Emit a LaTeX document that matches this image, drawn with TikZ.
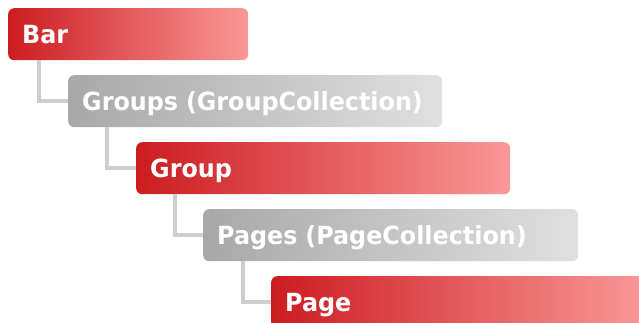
\documentclass[tikz,border=0pt]{standalone}
\usepackage{graphicx}
\usepackage{fontspec}
\setmainfont{DejaVu Sans}
\definecolor{redL}{RGB}{204,28,32}
\definecolor{redR}{RGB}{250,152,152}
\definecolor{grayL}{RGB}{168,168,168}
\definecolor{grayR}{RGB}{224,224,224}
\definecolor{connC}{RGB}{206,206,206}
\newlength\gw
\newcommand\itemtext[1]{\scalebox{\sx}[1]{#1}}
\begin{document}
\settowidth\gw{\bfseries\fontsize{25}{25}\selectfont Groups (GroupCollection)}%
\pgfmathsetmacro\sx{341/\gw}%
\begin{tikzpicture}[x=1pt,y=-1pt,
  itembox/.style={rectangle, rounded corners=6pt, anchor=north west,
    inner xsep=14pt, inner ysep=0pt, text height=35pt, text depth=17pt,
    align=left, text=white, font=\bfseries\fontsize{25}{25}\selectfont},
  redbox/.style={itembox, left color=redL, right color=redR},
  graybox/.style={itembox, left color=grayL, right color=grayR},
  conn/.style={draw=connC, line width=3.5pt}]
\useasboundingbox (0,0) rectangle (639,323);
\node[redbox, text width=212pt] (bar) at (8,8) {\itemtext{Bar}};
\node[graybox, text width=346pt] (groups) at (68,75) {\itemtext{Groups (GroupCollection)}};
\node[redbox, text width=346pt] (group) at (136,142) {\itemtext{Group}};
\node[graybox, text width=347pt] (pages) at (203,209) {\itemtext{Pages (PageCollection)}};
\node[redbox, text width=346pt] (page) at (271,276) {\itemtext{Page}};
\draw[conn] ([xshift=31pt]bar.south west) |- (groups.west);
\draw[conn] ([xshift=39pt]groups.south west) |- (group.west);
\draw[conn] ([xshift=39pt]group.south west) |- (pages.west);
\draw[conn] ([xshift=40pt]pages.south west) |- (page.west);
\end{tikzpicture}
\end{document}
